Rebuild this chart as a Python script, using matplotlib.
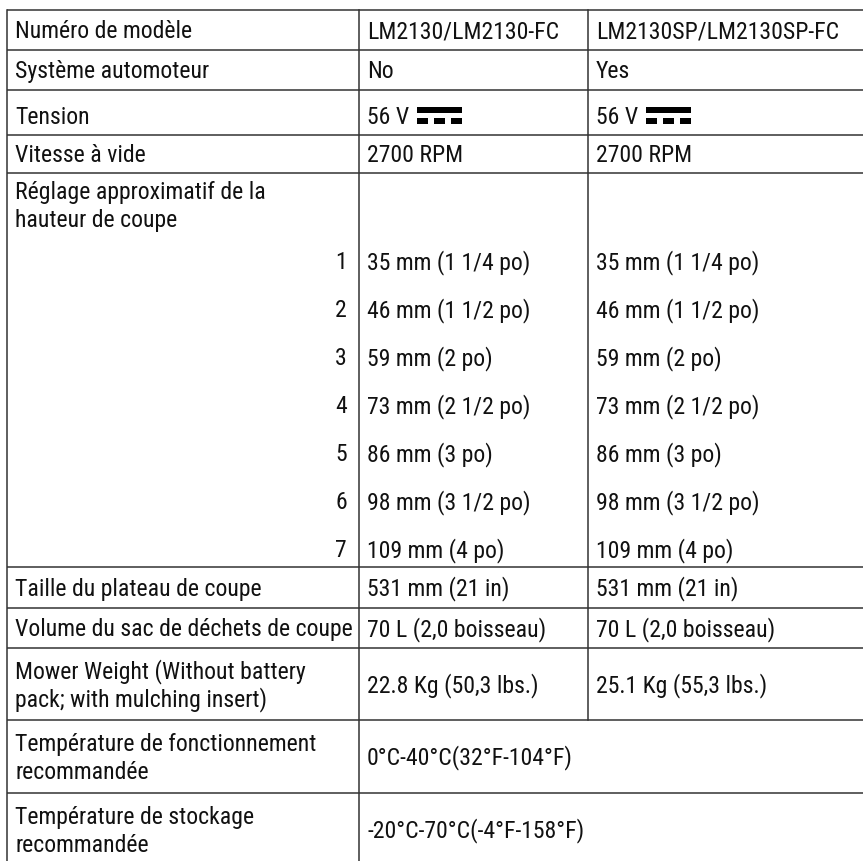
import matplotlib.pyplot as plt
from matplotlib import font_manager
from matplotlib.patches import Rectangle

# table content
labels = [
    "Numéro de modèle",
    "Système automoteur",
    "Tension",
    "Vitesse à vide",
    "Réglage approximatif de la\nhauteur de coupe",
    "Taille du plateau de coupe",
    "Volume du sac de déchets de coupe",
    "Mower Weight (Without battery\npack; with mulching insert)",
    "Température de fonctionnement\nrecommandée",
    "Température de stockage\nrecommandée",
]
col_a = ["LM2130/LM2130-FC", "No", "56 V", "2700 RPM", "",
         "531 mm (21 in)", "70 L (2,0 boisseau)", "22.8 Kg (50,3 lbs.)",
         "0°C-40°C(32°F-104°F)", "-20°C-70°C(-4°F-158°F)"]
col_b = ["LM2130SP/LM2130SP-FC", "Yes", "56 V", "2700 RPM", "",
         "531 mm (21 in)", "70 L (2,0 boisseau)", "25.1 Kg (55,3 lbs.)",
         None, None]
merged = [False] * 8 + [True, True]
dc_rows = [2]

cut_steps = ["1", "2", "3", "4", "5", "6", "7"]
cut_heights = ["35 mm (1 1/4 po)", "46 mm (1 1/2 po)", "59 mm (2 po)",
               "73 mm (2 1/2 po)", "86 mm (3 po)", "98 mm (3 1/2 po)",
               "109 mm (4 po)"]
cut_row = 4

# layout (pixels)
W, H = 863, 861
row_edges = [10, 50, 90, 135, 173, 567, 608, 648, 720, 793, 866]
x_left, x_c1, x_c2, x_right = 7, 359, 588, 863
pad = 8
LINE = 28
STEP_Y0, STEP_DY = 269, 48

names = {f.name for f in font_manager.fontManager.ttflist}
if 'Roboto Condensed' in names:
    FAMILY, FS = 'Roboto Condensed', 17.1
elif 'Liberation Sans Narrow' in names:
    FAMILY, FS = 'Liberation Sans Narrow', 18.4
else:
    FAMILY, FS = 'Liberation Sans', 15.2
CAP = FS / 72 * 100 * 0.71

plt.rcParams['font.family'] = [FAMILY, 'DejaVu Sans']
fig = plt.figure(figsize=(W / 100, H / 100), dpi=100)
ax = fig.add_axes([0, 0, 1, 1])
ax.set_xlim(0, W)
ax.set_ylim(H, 0)
ax.axis('off')

lc = '#333333'
lw = 1.1
tc = '#111111'

# grid lines
for y in row_edges[:-1]:
    ax.plot([x_left, x_right], [y, y], color=lc, lw=lw, solid_capstyle='butt')
ax.plot([x_left, x_left], [row_edges[0], H], color=lc, lw=lw)
ax.plot([x_c1, x_c1], [row_edges[0], H], color=lc, lw=lw)
ax.plot([x_c2, x_c2], [row_edges[0], row_edges[8]], color=lc, lw=lw)


def put(x, y, s, ha='left'):
    return ax.text(x, y, s, ha=ha, va='baseline', fontsize=FS, color=tc,
                   linespacing=1.0)


def multiline(x, yc, s):
    parts = s.split("\n")
    n = len(parts)
    for k, p in enumerate(parts):
        put(x, yc + CAP / 2 + (k - (n - 1) / 2) * LINE, p)


dc_texts = []
for i, lab in enumerate(labels):
    top, bot = row_edges[i], row_edges[i + 1]
    if i == cut_row:
        parts = lab.split("\n")
        for k, p in enumerate(parts):
            put(x_left + pad, 199 + k * LINE, p)
        for k, (s, v) in enumerate(zip(cut_steps, cut_heights)):
            yb = STEP_Y0 + k * STEP_DY
            put(x_c1 - 12, yb, s, ha='right')
            put(x_c1 + pad, yb, v)
            put(x_c2 + pad, yb, v)
        continue
    yc = (top + bot) / 2
    if i in dc_rows:
        yc += 3
    multiline(x_left + pad, yc, lab)
    put(x_c1 + pad, yc + CAP / 2, col_a[i])
    if not merged[i]:
        put(x_c2 + pad, yc + CAP / 2, col_b[i])
    if i in dc_rows:
        dc_texts.append((x_c1 + pad, yc + CAP / 2))
        dc_texts.append((x_c2 + pad, yc + CAP / 2))

# DC symbol after "56 V"
fig.canvas.draw()
for (x0, yb) in dc_texts:
    tt = put(x0, yb, "56 V")
    bb = tt.get_window_extent()
    x_end = ax.transData.inverted().transform((bb.x1, 0))[0]
    tt.remove()
    sx = x_end + 8
    sw = 45
    ax.add_patch(Rectangle((sx, yb - CAP), sw, 6, color='black', lw=0))
    dw = 11
    gap = (sw - 3 * dw) / 2
    for j in range(3):
        ax.add_patch(Rectangle((sx + j * (dw + gap), yb - 6), dw, 6,
                               color='black', lw=0))

fig.savefig("out.png", dpi=100)
